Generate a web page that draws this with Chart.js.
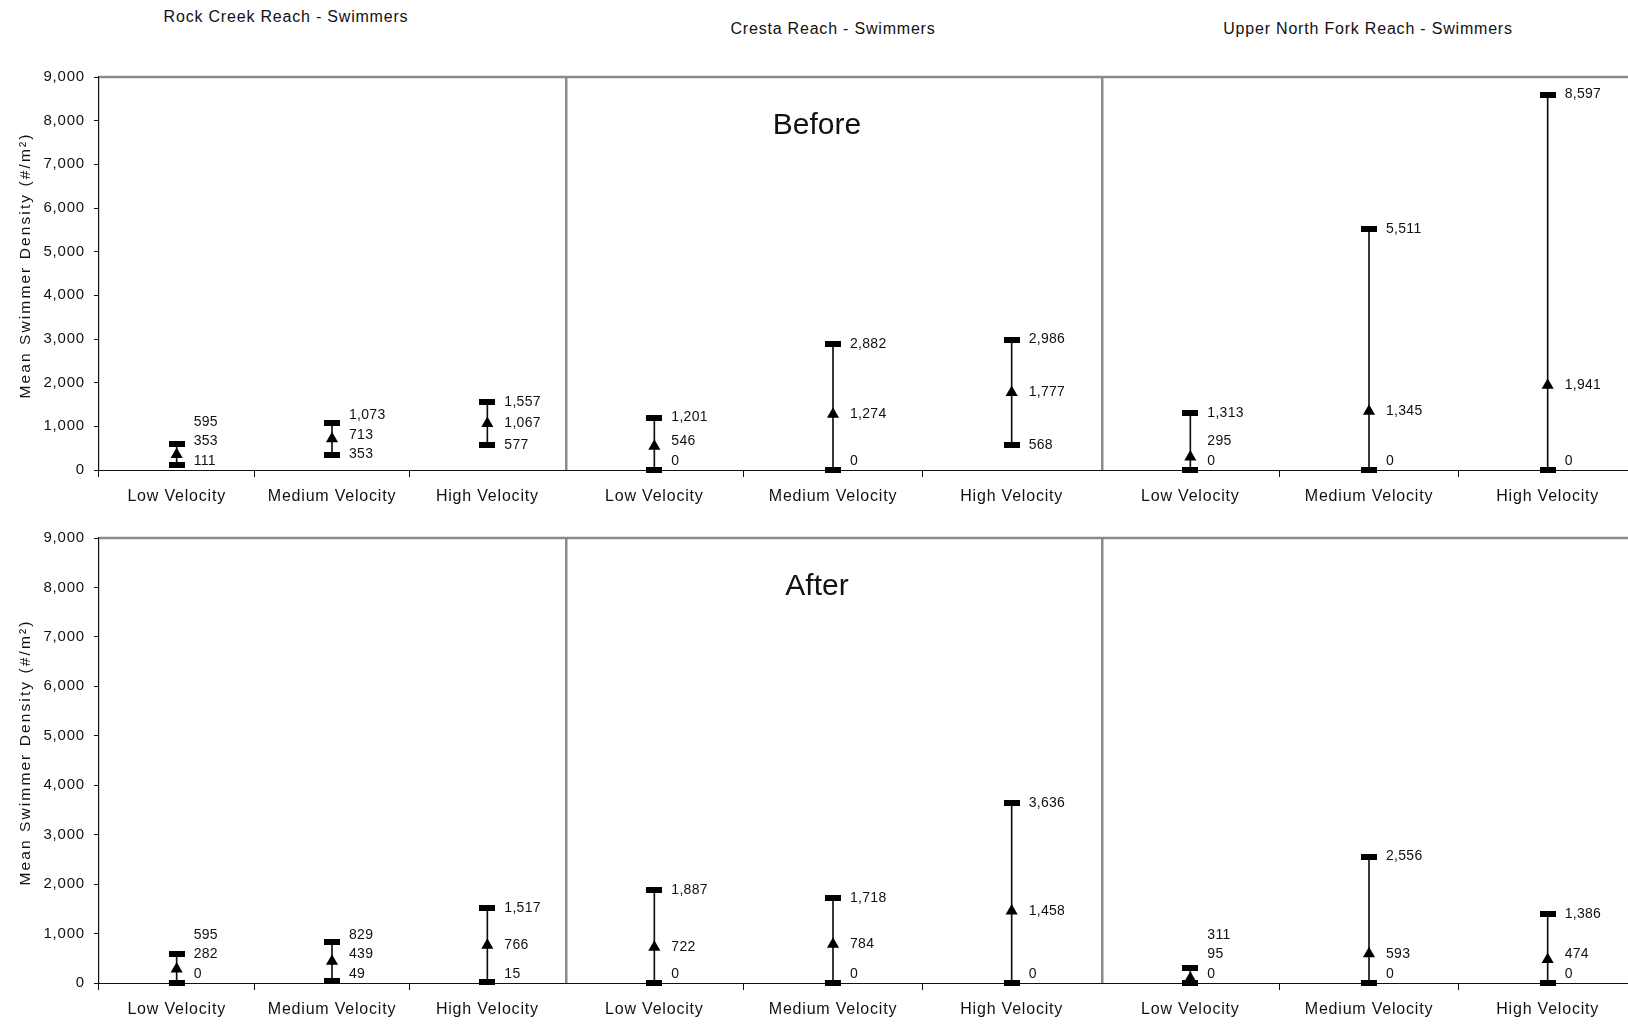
<!DOCTYPE html>
<html>
<head>
<meta charset="utf-8">
<script src="https://cdn.jsdelivr.net/npm/chart.js@4.4.0/dist/chart.umd.min.js"></script>
<style>
  body { margin: 0; width: 1628px; height: 1024px; overflow: hidden; background: #fff; position: relative;
         font-family: "Liberation Sans", Arial, sans-serif; }
  canvas { position: absolute; }
  .ttl { position: absolute; font-size: 16px; letter-spacing: 0.8px; color: #111; white-space: nowrap;
         transform: translate(-50%, -50%); }
</style>
</head>
<body>
<div class="ttl" style="left:286px; top:17px">Rock Creek Reach - Swimmers</div>
<div class="ttl" style="left:833px; top:29px">Cresta Reach - Swimmers</div>
<div class="ttl" style="left:1368px; top:29px">Upper North Fork Reach - Swimmers</div>

<canvas id="c00" width="565" height="458" style="left:0; top:57px"></canvas>
<canvas id="c01" width="536" height="458" style="left:565px; top:57px"></canvas>
<canvas id="c02" width="536" height="458" style="left:1101px; top:57px"></canvas>
<canvas id="c10" width="565" height="506" style="left:0; top:518px"></canvas>
<canvas id="c11" width="536" height="506" style="left:565px; top:518px"></canvas>
<canvas id="c12" width="536" height="506" style="left:1101px; top:518px"></canvas>

<script>
// categories and axis
var categories = ['Low Velocity', 'Medium Velocity', 'High Velocity'];
var yMax = 9000;
var yStep = 1000;
var yTitle = 'Mean Swimmer Density (#/m\u00B2)';

// Before
var rockBeforeMin  = [111, 353, 577];
var rockBeforeMean = [353, 713, 1067];
var rockBeforeMax  = [595, 1073, 1557];
var crestaBeforeMin  = [0, 0, 568];
var crestaBeforeMean = [546, 1274, 1777];
var crestaBeforeMax  = [1201, 2882, 2986];
var unfBeforeMin  = [0, 0, 0];
var unfBeforeMean = [295, 1345, 1941];
var unfBeforeMax  = [1313, 5511, 8597];

// After
var rockAfterMin  = [0, 49, 15];
var rockAfterMean = [282, 439, 766];
var rockAfterMax  = [595, 829, 1517];
var crestaAfterMin  = [0, 0, 0];
var crestaAfterMean = [722, 784, 1458];
var crestaAfterMax  = [1887, 1718, 3636];
var unfAfterMin  = [0, 0, 0];
var unfAfterMean = [95, 593, 474];
var unfAfterMax  = [311, 2556, 1386];

Chart.defaults.font.family = '"Liberation Sans", Arial, sans-serif';
Chart.defaults.color = '#111';

// the min / max caps
var cap = document.createElement('canvas');
cap.width = 16; cap.height = 6;
var cc = cap.getContext('2d');
cc.fillStyle = '#000';
cc.fillRect(0, 0, 16, 6);

var spacing = {
  id: 'spacing',
  beforeDraw: function(chart) { chart.ctx.letterSpacing = '0.8px'; }
};

var frame = {
  id: 'frame',
  beforeDatasetsDraw: function(chart, args, o) {
    var ctx = chart.ctx, a = chart.chartArea;
    ctx.save();
    ctx.strokeStyle = '#8a8a8a';
    ctx.lineWidth = 2.5;
    ctx.beginPath(); ctx.moveTo(a.left, a.top); ctx.lineTo(a.right, a.top); ctx.stroke();
    if (o.divider) {
      ctx.lineWidth = 3;
      ctx.beginPath(); ctx.moveTo(a.left + 1, a.top); ctx.lineTo(a.left + 1, a.bottom); ctx.stroke();
    }
    ctx.fillStyle = '#111';
    if (o.bigText) {
      ctx.font = '30px "Liberation Sans", Arial, sans-serif';
      ctx.letterSpacing = '0px';
      ctx.textAlign = 'center';
      ctx.textBaseline = 'middle';
      ctx.fillText(o.bigText, a.left + 252, a.top + 49);
    }
    if (o.yTitle) {
      ctx.font = '15.5px "Liberation Sans", Arial, sans-serif';
      ctx.letterSpacing = '2.1px';
      ctx.translate(26, (a.top + a.bottom) / 2 - 8);
      ctx.rotate(-Math.PI / 2);
      ctx.textAlign = 'center';
      ctx.textBaseline = 'middle';
      ctx.fillText(o.yTitle, 0, 0);
    }
    ctx.restore();
  }
};

// value labels right of each marker, pushed apart when crowded
var rangeLabels = {
  id: 'rangeLabels',
  afterDatasetsDraw: function(chart) {
    var ctx = chart.ctx, a = chart.chartArea, y = chart.scales.y;
    var mx = chart.data.datasets[1].data;
    var mn = chart.data.datasets[2].data;
    var me = chart.data.datasets[3].data;
    var pts = chart.getDatasetMeta(3).data;
    ctx.save();
    ctx.font = '14px "Liberation Sans", Arial, sans-serif';
    ctx.letterSpacing = '0.3px';
    ctx.fillStyle = '#111';
    ctx.textAlign = 'left';
    ctx.textBaseline = 'middle';
    pts.forEach(function(p, i) {
      var prev = a.bottom - 9 + 19.5;
      [mn[i], me[i], mx[i]].forEach(function(v) {
        var yy = Math.min(y.getPixelForValue(v), prev - 19.5);
        ctx.fillText(v.toLocaleString('en-US'), p.x + 17, yy);
        prev = yy;
      });
    });
    ctx.restore();
  }
};

function makeChart(id, mins, means, maxes, opt) {
  var el = document.getElementById(id);
  return new Chart(el, {
    type: 'bar',
    data: {
      labels: categories,
      datasets: [
        { type: 'bar', data: mins.map(function(m, i) { return [m, maxes[i]]; }),
          backgroundColor: '#111', barThickness: 1, order: 3, clip: false },
        { type: 'line', data: maxes, showLine: false, pointStyle: cap, pointRadius: 8, order: 1, clip: false },
        { type: 'line', data: mins, showLine: false, pointStyle: cap, pointRadius: 8, order: 1, clip: false },
        { type: 'line', data: means, showLine: false, pointStyle: 'triangle', pointRadius: 7,
          backgroundColor: '#000', borderColor: '#000', borderWidth: 0, order: 0, clip: false }
      ]
    },
    options: {
      responsive: false,
      animation: false,
      layout: { autoPadding: false, padding: { top: 20, left: 0, right: 0, bottom: 0 } },
      plugins: {
        legend: { display: false },
        tooltip: { enabled: false },
        frame: { divider: !!opt.divider, bigText: opt.bigText, yTitle: opt.yAxis ? yTitle : null }
      },
      scales: {
        x: {
          offset: true,
          grid: { offset: true, drawOnChartArea: false, tickLength: 7, color: '#111' },
          border: { color: '#111', width: 1 },
          ticks: { font: { size: 16 }, color: '#111', padding: 10, maxRotation: 0, autoSkip: false },
          afterFit: function(s) { s.height = opt.axisH; s.paddingLeft = 0; s.paddingRight = 0; }
        },
        y: {
          display: !!opt.yAxis,
          min: 0, max: yMax,
          ticks: { stepSize: yStep, font: { size: 15 }, color: '#111', padding: 9,
                   callback: function(v) { return v.toLocaleString('en-US'); } },
          grid: { drawOnChartArea: false, tickLength: 5, color: '#111' },
          border: { color: '#111', width: 1.2 },
          afterFit: function(s) { s.width = opt.yAxis ? 99 : 0; }
        }
      }
    },
    plugins: [spacing, frame, rangeLabels]
  });
}

makeChart('c00', rockBeforeMin, rockBeforeMean, rockBeforeMax, { yAxis: true, axisH: 45 });
makeChart('c01', crestaBeforeMin, crestaBeforeMean, crestaBeforeMax, { divider: true, axisH: 45, bigText: 'Before' });
makeChart('c02', unfBeforeMin, unfBeforeMean, unfBeforeMax, { divider: true, axisH: 45 });
makeChart('c10', rockAfterMin, rockAfterMean, rockAfterMax, { yAxis: true, axisH: 41 });
makeChart('c11', crestaAfterMin, crestaAfterMean, crestaAfterMax, { divider: true, axisH: 41, bigText: 'After' });
makeChart('c12', unfAfterMin, unfAfterMean, unfAfterMax, { divider: true, axisH: 41 });
</script>
</body>
</html>
